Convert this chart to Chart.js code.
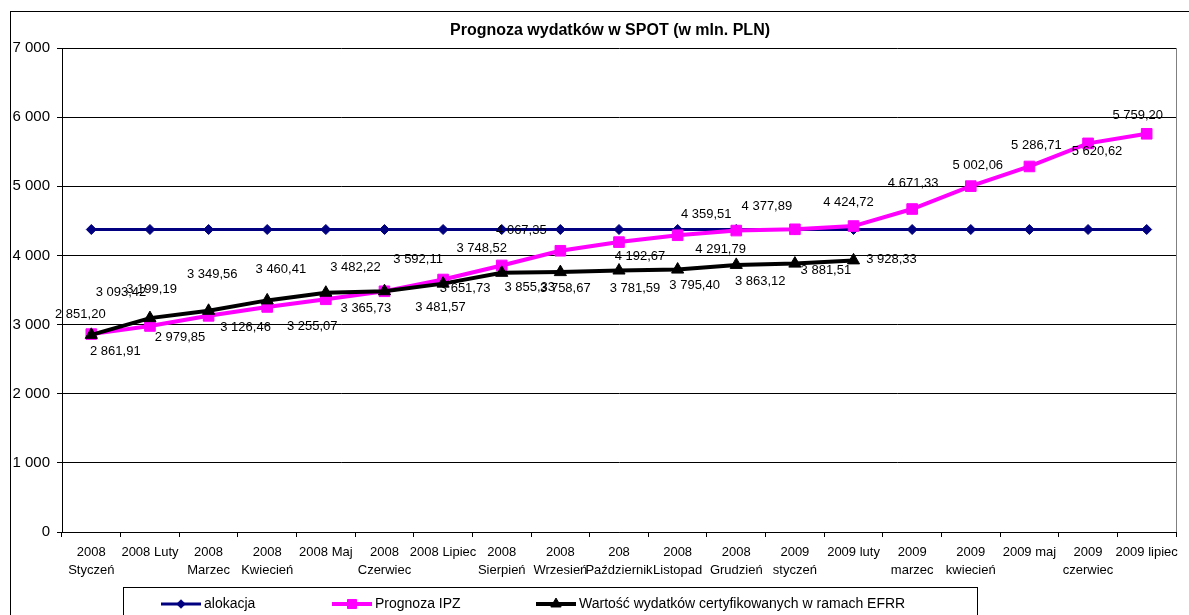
<!DOCTYPE html>
<html>
<head>
<meta charset="utf-8">
<script src="https://cdn.jsdelivr.net/npm/chart.js@4/dist/chart.umd.min.js"></script>
<style>
html,body{margin:0;padding:0;background:#fff;}
#wrap{width:1189px;height:615px;position:relative;overflow:hidden;}
canvas{display:block;}
</style>
</head>
<body>
<div id="wrap"><canvas id="c" width="1189" height="615"></canvas></div>
<script>
// ---------- DATA ----------
const chartTitle = "Prognoza wydatków w SPOT (w mln. PLN)";
const categories = [
  ["2008","Styczeń"], "2008 Luty", ["2008","Marzec"], ["2008","Kwiecień"], "2008 Maj",
  ["2008","Czerwiec"], "2008 Lipiec", ["2008","Sierpień"], ["2008","Wrzesień"],
  ["208","Październik"], ["2008","Listopad"], ["2008","Grudzień"], ["2009","styczeń"],
  "2009 luty", ["2009","marzec"], ["2009","kwiecień"], "2009 maj", ["2009","czerwiec"], "2009 lipiec"
];
const seriesNames = ["alokacja", "Prognoza IPZ", "Wartość wydatków certyfikowanych w ramach EFRR"];
const alokacja = [4375,4375,4375,4375,4375,4375,4375,4375,4375,4375,4375,4375,4375,4375,4375,4375,4375,4375,4375];
const prognozaIPZ = [2861.91,2979.85,3126.46,3255.07,3365.73,3481.57,3651.73,3855.33,4067.35,4192.67,
                     4291.79,4359.51,4377.89,4424.72,4671.33,5002.06,5286.71,5620.62,5759.20];
const wartoscCertyfikowanych = [2851.20,3093.42,3199.19,3349.56,3460.41,3482.22,3592.11,3748.52,3758.67,
                                3781.59,3795.40,3863.12,3881.51,3928.33];
const yTickValues = [0,1000,2000,3000,4000,5000,6000,7000];

// ---------- LABEL LAYOUT (nudges of value labels relative to their points) ----------
const pinkLabelNudge = [[24,17],[30,11],[37,12],[45,19],[40,9],[56,16],[22,9],[28,22],[-39,-20],[21,14],
                        [43,14],[-30,-16],[-28,-23],[-5,-24],[1,-26],[7,-21],[7,-21],[9,8],[-9,-18]];
const blackLabelNudge = [[-11,-20],[-29,-26],[-57,-21],[-55,-26],[-45,-23],[-29,-24],[-25,-24],[-20,-24],
                         [5,16],[16,18],[17,16],[24,17],[31,7],[38,-1]];

// ---------- HELPERS ----------
const FONT = '"Liberation Sans", Arial, Helvetica, sans-serif';
const groupThousands = s => s.replace(/\B(?=(\d{3})+(?!\d))/g, ' ');
const fmtValue = v => { const p = v.toFixed(2).split('.'); return groupThousands(p[0]) + ',' + p[1]; };

function drawMarker(ctx, style, x, y, r, color) {
  ctx.save();
  ctx.fillStyle = color; ctx.strokeStyle = color; ctx.lineWidth = 1;
  ctx.beginPath();
  if (style === 'rectRot') {
    ctx.moveTo(x, y - r); ctx.lineTo(x + r, y); ctx.lineTo(x, y + r); ctx.lineTo(x - r, y);
  } else if (style === 'rect') {
    const s = r * Math.SQRT1_2; ctx.rect(x - s, y - s, 2 * s, 2 * s);
  } else if (style === 'triangle') {
    ctx.moveTo(x, y - r);
    ctx.lineTo(x + r * Math.sin(2 * Math.PI / 3), y - r * Math.cos(2 * Math.PI / 3));
    ctx.lineTo(x + r * Math.sin(4 * Math.PI / 3), y - r * Math.cos(4 * Math.PI / 3));
  }
  ctx.closePath(); ctx.fill(); ctx.stroke();
  ctx.restore();
}

const decorPlugin = {
  id: 'decor',
  beforeDraw(chart) {
    const ctx = chart.ctx;
    ctx.save();
    ctx.fillStyle = '#fff';
    ctx.fillRect(0, 0, chart.width, chart.height);
    ctx.strokeStyle = '#000'; ctx.lineWidth = 1;
    ctx.strokeRect(10.5, 11.5, 1400, 800);
    ctx.fillStyle = '#000';
    ctx.font = 'bold 16px ' + FONT;
    ctx.textAlign = 'center'; ctx.textBaseline = 'middle';
    ctx.fillText(chartTitle, 610, 31);
    ctx.restore();
  },
  afterDatasetsDraw(chart) {
    const ctx = chart.ctx;
    ctx.save();
    ctx.font = '13px ' + FONT;
    ctx.fillStyle = '#000';
    ctx.textAlign = 'center'; ctx.textBaseline = 'middle';
    [[1, pinkLabelNudge], [2, blackLabelNudge]].forEach(([di, nudge]) => {
      const meta = chart.getDatasetMeta(di);
      const vals = chart.data.datasets[di].data;
      meta.data.forEach((pt, i) => {
        const v = vals[i];
        if (v == null) return;
        const n = nudge[i] || [0, -14];
        ctx.fillText(fmtValue(v), pt.x + n[0], pt.y + n[1]);
      });
    });
    ctx.restore();
  },
  afterDraw(chart) {
    const ctx = chart.ctx;
    const a = chart.chartArea;
    ctx.save();
    // plot-area right border
    ctx.strokeStyle = '#808080'; ctx.lineWidth = 1;
    ctx.beginPath(); ctx.moveTo(Math.round(a.right) + 0.5, a.top); ctx.lineTo(Math.round(a.right) + 0.5, a.bottom); ctx.stroke();
    // legend box
    ctx.strokeStyle = '#000'; ctx.lineWidth = 1;
    ctx.strokeRect(123.5, 587.5, 854, 60);
    const items = [[161, 0], [332, 1], [536, 2]];
    const ly = 604;
    ctx.font = '14px ' + FONT;
    ctx.textAlign = 'left'; ctx.textBaseline = 'middle';
    items.forEach(([x, di]) => {
      const ds = chart.data.datasets[di];
      ctx.strokeStyle = ds.borderColor; ctx.lineWidth = ds.borderWidth;
      ctx.beginPath(); ctx.moveTo(x, ly); ctx.lineTo(x + 40, ly); ctx.stroke();
      drawMarker(ctx, ds.pointStyle, x + 20, ly, ds.pointRadius * 0.85, ds.borderColor);
      ctx.fillStyle = '#000';
      ctx.fillText(ds.label, x + 43, ly);
    });
    ctx.restore();
  }
};

Chart.defaults.font.family = FONT;
Chart.defaults.color = '#000';

new Chart(document.getElementById('c'), {
  type: 'line',
  data: {
    labels: categories,
    datasets: [
      { label: seriesNames[0], data: alokacja, borderColor: '#000080', backgroundColor: '#000080',
        borderWidth: 3, pointStyle: 'rectRot', pointRadius: 5, pointBorderWidth: 1, pointHoverRadius: 5,
        pointBackgroundColor: '#000080', pointBorderColor: '#000080', tension: 0, order: 3 },
      { label: seriesNames[1], data: prognozaIPZ, borderColor: '#FF00FF', backgroundColor: '#FF00FF',
        borderWidth: 4, pointStyle: 'rect', pointRadius: 7.5, pointBorderWidth: 1, pointHoverRadius: 7.5,
        pointBackgroundColor: '#FF00FF', pointBorderColor: '#FF00FF', tension: 0, order: 2 },
      { label: seriesNames[2], data: wartoscCertyfikowanych, borderColor: '#000000', backgroundColor: '#000000',
        borderWidth: 4, pointStyle: 'triangle', pointRadius: 7, pointBorderWidth: 1, pointHoverRadius: 7,
        pointBackgroundColor: '#000000', pointBorderColor: '#000000', tension: 0, order: 1 }
    ]
  },
  options: {
    responsive: false,
    animation: false,
    devicePixelRatio: 1,
    layout: { padding: { left: 0, top: 48, right: 13, bottom: 33 } },
    plugins: {
      legend: { display: false },
      title: { display: false },
      tooltip: { enabled: false }
    },
    scales: {
      x: {
        type: 'category',
        offset: true,
        grid: { display: true, offset: true, drawOnChartArea: false, drawTicks: true, tickLength: 5, color: '#000', lineWidth: 1 },
        border: { display: true, color: '#000', width: 1 },
        ticks: { autoSkip: false, maxRotation: 0, minRotation: 0, padding: 6, color: '#000',
                 font: { size: 13, lineHeight: 1.415 } },
        afterFit: s => { s.height = 50; }
      },
      y: {
        min: 0, max: 7000,
        afterBuildTicks: s => { s.ticks = yTickValues.map(v => ({ value: v })); },
        grid: { color: '#000', lineWidth: 1, drawTicks: true, tickLength: 5 },
        border: { display: true, color: '#000', width: 1 },
        ticks: { padding: 7, color: '#000', font: { size: 15 },
                 callback: v => groupThousands(String(v)) },
        afterFit: s => { s.width = 62; }
      }
    }
  },
  plugins: [decorPlugin]
});
</script>
</body>
</html>
